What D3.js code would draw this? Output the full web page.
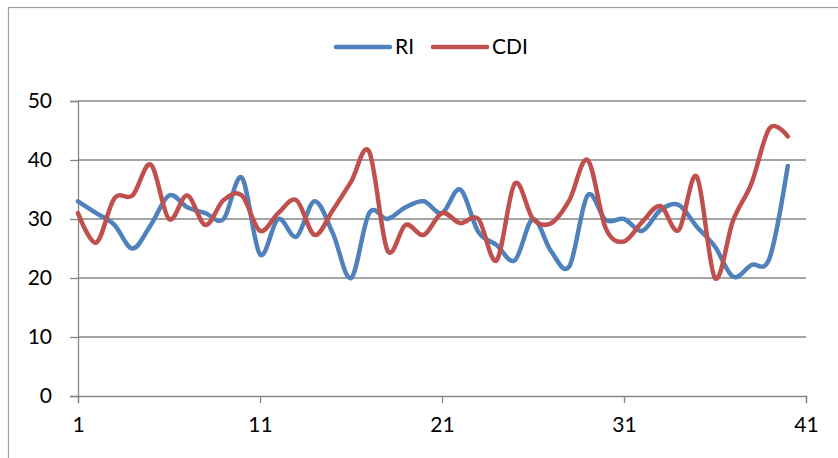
<!DOCTYPE html>
<html><head><meta charset="utf-8">
<script src="https://cdn.jsdelivr.net/npm/d3@7"></script>
<style>html,body{margin:0;padding:0;background:#fff;overflow:hidden}</style>
</head><body>
<svg id="c" width="838" height="458"></svg>
<script>
const xValues = d3.range(1, 41);
const RI = [33,31,29,25,29,34,32,31,30,37,24,30,27,33,27.6,20,31,30,32,33,31,35,27.8,25.6,23,30,24.5,22,34,29.8,30,28,31.5,32.4,28.7,25.3,20.2,22.2,23.4,39];
const CDI = [31,26,33.5,34,39.2,30,34,29,33.2,34,28,31,33.2,27.3,31.5,36.3,41.4,24.7,29,27.3,31,29.3,30,23,36,30,29.3,33.2,40,28.4,26.2,29.5,32.2,28.1,37.2,20,29.8,36,45.4,44];
const series = [{name:"RI", values:RI, color:"#4F81BD"},{name:"CDI", values:CDI, color:"#C0504D"}];
const xTicks = [1, 11, 21, 31, 41];
const yTicks = [0, 10, 20, 30, 40, 50];

const svg = d3.select("#c");
const font = "Lato, 'Liberation Sans', sans-serif";
const gray = "#868686";

// chart border
svg.append("rect").attr("x", 8.5).attr("y", 7.5).attr("width", 840).attr("height", 460)
  .attr("fill", "none").attr("stroke", "#a0a0a0").attr("stroke-width", 1.2);

const x = d3.scaleLinear().domain([1, 41]).range([78, 806]);
const y = d3.scaleLinear().domain([0, 50]).range([396, 101]);

// gridlines
svg.append("g").selectAll("line").data(yTicks.filter(d => d > 0)).join("line")
  .attr("x1", x(1)).attr("x2", x(41)).attr("y1", d => y(d)).attr("y2", d => y(d))
  .attr("stroke", gray).attr("stroke-width", 1.3);

// y axis
const ya = svg.append("g").attr("transform", `translate(${x(1)},0)`)
  .call(d3.axisLeft(y).tickValues(yTicks).tickSize(8).tickPadding(18));
ya.select(".domain").attr("stroke", gray).attr("stroke-width", 1.3);
ya.selectAll(".tick line").attr("stroke", gray).attr("stroke-width", 1.3);
ya.selectAll("text").attr("font-family", font).attr("font-size", 21).attr("fill", "#000");

// x axis
const xa = svg.append("g").attr("transform", `translate(0,${y(0)})`)
  .call(d3.axisBottom(x).tickValues(xTicks).tickSize(7).tickPadding(14));
xa.select(".domain").attr("stroke", gray).attr("stroke-width", 1.3);
xa.selectAll(".tick line").attr("stroke", gray).attr("stroke-width", 1.3);
xa.selectAll("text").attr("font-family", font).attr("font-size", 21).attr("fill", "#000");

// lines
const line = d3.line().x((d, i) => x(xValues[i])).y(d => y(d)).curve(d3.curveCardinal.tension(0));
series.forEach(s => {
  svg.append("path").datum(s.values).attr("d", line)
    .attr("fill", "none").attr("stroke", s.color).attr("stroke-width", 4.5)
    .attr("stroke-linejoin", "round").attr("stroke-linecap", "round");
});

// legend
const legX = [336, 433];
series.forEach((s, i) => {
  const g = svg.append("g");
  g.append("line").attr("x1", legX[i]).attr("x2", legX[i] + 54).attr("y1", 47).attr("y2", 47)
    .attr("stroke", s.color).attr("stroke-width", 4.5).attr("stroke-linecap", "round");
  g.append("text").attr("x", legX[i] + 59).attr("y", 47).attr("dy", "0.35em")
    .attr("font-family", font).attr("font-size", 21).text(s.name);
});
</script>
</body></html>
